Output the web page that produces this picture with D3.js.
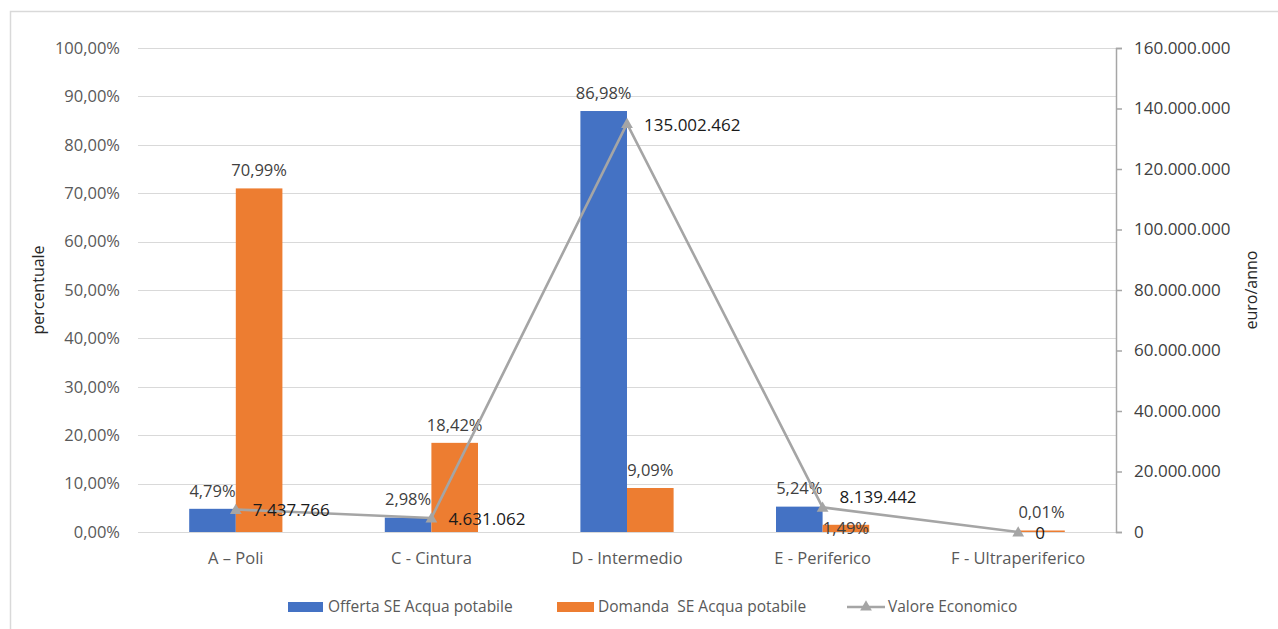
<!DOCTYPE html>
<html>
<head>
<meta charset="utf-8">
<script src="https://cdn.jsdelivr.net/npm/d3@7"></script>
<style>
  html, body { margin: 0; padding: 0; background: #fff; }
  svg { display: block; font-family: "Open Sans", sans-serif; }
  text { white-space: pre; }
</style>
</head>
<body>
<svg id="chart" width="1278" height="629"></svg>
<script>
// Categories (fasce territoriali)
const categories = ["A \u2013 Poli", "C - Cintura", "D - Intermedio", "E - Periferico", "F - Ultraperiferico"];
// Percent shares per category
const offerta = [4.79, 2.98, 86.98, 5.24, null];
const domanda = [70.99, 18.42, 9.09, 1.49, 0.01];
// Economic value, euro/anno
const valore = [7437766, 4631062, 135002462, 8139442, 0];
// Axis ticks
const leftTicks = [0, 10, 20, 30, 40, 50, 60, 70, 80, 90, 100];
const rightTicks = [0, 20000000, 40000000, 60000000, 80000000, 100000000, 120000000, 140000000, 160000000];
const seriesNames = ["Offerta SE Acqua potabile", "Domanda  SE Acqua potabile", "Valore Economico"];

const COLORS = { offerta: "#4472C4", domanda: "#ED7D31", valore: "#A5A5A5" };
const plot = { left: 138, right: 1116, top: 48, bottom: 532 };

const it = d3.formatLocale({ decimal: ",", thousands: ".", grouping: [3], currency: ["€", ""] });
const fmtPct = v => it.format(".2f")(v) + "%";
const fmtEur = it.format(",.0f");

const svg = d3.select("#chart");

// outer frame
svg.append("rect").attr("x", 10.5).attr("y", 11.5).attr("width", 1300).attr("height", 700)
  .attr("fill", "none").attr("stroke", "#d9d9d9").attr("stroke-width", 1.5);

const x0 = d3.scaleBand().domain(categories).range([plot.left, plot.right])
  .paddingInner(0.5235).paddingOuter(0.26175);
const x1 = d3.scaleBand().domain(["offerta", "domanda"]).range([0, x0.bandwidth()]);
const yL = d3.scaleLinear().domain([0, 100]).range([plot.bottom, plot.top]);
const yR = d3.scaleLinear().domain([0, 160000000]).range([plot.bottom, plot.top]);
const center = c => x0(c) + x0.bandwidth() / 2;

// gridlines
svg.append("g").selectAll("line").data(leftTicks).join("line")
  .attr("x1", plot.left).attr("x2", plot.right)
  .attr("y1", d => Math.round(yL(d)) + 0.5).attr("y2", d => Math.round(yL(d)) + 0.5)
  .attr("stroke", "#d9d9d9").attr("stroke-width", 1.2);

// left axis
const gL = svg.append("g").attr("transform", `translate(${plot.left - 18},0)`)
  .call(d3.axisLeft(yL).tickValues(leftTicks).tickFormat(d => fmtPct(d)).tickSize(0).tickPadding(0));
gL.select(".domain").remove();
gL.selectAll("text").attr("font-family", "Open Sans").attr("font-size", 16.5).attr("fill", "#595959");

// right axis
const gR = svg.append("g").attr("transform", `translate(${plot.right},0)`)
  .call(d3.axisRight(yR).tickValues(rightTicks).tickFormat(d => fmtEur(d)).tickSize(6).tickPadding(12));
gR.select(".domain").attr("stroke", "#a6a6a6").attr("stroke-width", 1.5);
gR.selectAll(".tick line").attr("stroke", "#a6a6a6").attr("stroke-width", 1.5);
gR.selectAll("text").attr("font-family", "Open Sans").attr("font-size", 17).attr("fill", "#404040");

// category axis labels
svg.append("g").selectAll("text").data(categories).join("text")
  .attr("x", d => center(d)).attr("y", 558).attr("dy", "0.35em")
  .attr("text-anchor", "middle").attr("font-size", 16.5).attr("fill", "#595959")
  .text(d => d);

// axis titles
svg.append("text").attr("transform", "translate(38,290) rotate(-90)")
  .attr("text-anchor", "middle").attr("dy", "0.35em")
  .attr("font-size", 16).attr("fill", "#262626").text("percentuale");
svg.append("text").attr("transform", "translate(1251,290) rotate(-90)")
  .attr("text-anchor", "middle").attr("dy", "0.35em")
  .attr("font-size", 16).attr("fill", "#262626").text("euro/anno");

// bars (very small values still get a visible sliver)
const barData = [];
categories.forEach((c, i) => {
  barData.push({ cat: c, key: "offerta", v: offerta[i] });
  barData.push({ cat: c, key: "domanda", v: domanda[i] });
});
const bars = barData.filter(d => d.v !== null);
const barH = d => Math.max(yL(0) - yL(d.v), 1.5);
svg.append("g").selectAll("rect").data(bars).join("rect")
  .attr("x", d => x0(d.cat) + x1(d.key))
  .attr("width", x1.bandwidth())
  .attr("y", d => yL(0) - barH(d))
  .attr("height", d => barH(d))
  .attr("fill", d => COLORS[d.key]);

// bar value labels (1,49% sits down on its bar)
const pctDy = { "E - Periferico|domanda": 21, "F - Ultraperiferico|domanda": -2 };
svg.append("g").selectAll("text").data(bars).join("text")
  .attr("x", d => x0(d.cat) + x1(d.key) + x1.bandwidth() / 2)
  .attr("y", d => yL(d.v) - 18 + (pctDy[d.cat + "|" + d.key] || 0))
  .attr("dy", "0.35em").attr("text-anchor", "middle")
  .attr("font-size", 16.5).attr("fill", "#404040")
  .text(d => fmtPct(d.v));

// economic value line
const pts = categories.map((c, i) => ({ cat: c, v: valore[i] }));
svg.append("path").datum(pts)
  .attr("fill", "none").attr("stroke", COLORS.valore).attr("stroke-width", 2.6)
  .attr("stroke-linejoin", "round")
  .attr("d", d3.line().x(d => center(d.cat)).y(d => yR(d.v)));
const tri = d3.symbol().type(d3.symbolTriangle).size(60);
svg.append("g").selectAll("path").data(pts).join("path")
  .attr("transform", d => `translate(${center(d.cat)},${yR(d.v) + 1})`)
  .attr("d", tri).attr("fill", COLORS.valore);

// line value labels
const valDy = { "E - Periferico": -11 };
svg.append("g").selectAll("text").data(pts).join("text")
  .attr("x", d => center(d.cat) + 17)
  .attr("y", d => yR(d.v) + 1 + (valDy[d.cat] || 0))
  .attr("dy", "0.35em").attr("text-anchor", "start")
  .attr("font-size", 17).attr("fill", "#1a1a1a")
  .text(d => fmtEur(d.v));

// legend
const lg = svg.append("g").attr("font-size", 15.5).attr("fill", "#595959");
lg.append("rect").attr("x", 288).attr("y", 602).attr("width", 35).attr("height", 10).attr("fill", COLORS.offerta);
lg.append("text").attr("x", 328).attr("y", 607).attr("dy", "0.35em").text(seriesNames[0]);
lg.append("rect").attr("x", 557).attr("y", 602).attr("width", 37).attr("height", 10).attr("fill", COLORS.domanda);
lg.append("text").attr("x", 598).attr("y", 607).attr("dy", "0.35em").text(seriesNames[1]);
lg.append("line").attr("x1", 847).attr("x2", 885).attr("y1", 607).attr("y2", 607)
  .attr("stroke", COLORS.valore).attr("stroke-width", 2.6);
lg.append("path").attr("transform", "translate(866,607)").attr("d", tri).attr("fill", COLORS.valore);
lg.append("text").attr("x", 888).attr("y", 607).attr("dy", "0.35em").text(seriesNames[2]);
</script>
</body>
</html>
